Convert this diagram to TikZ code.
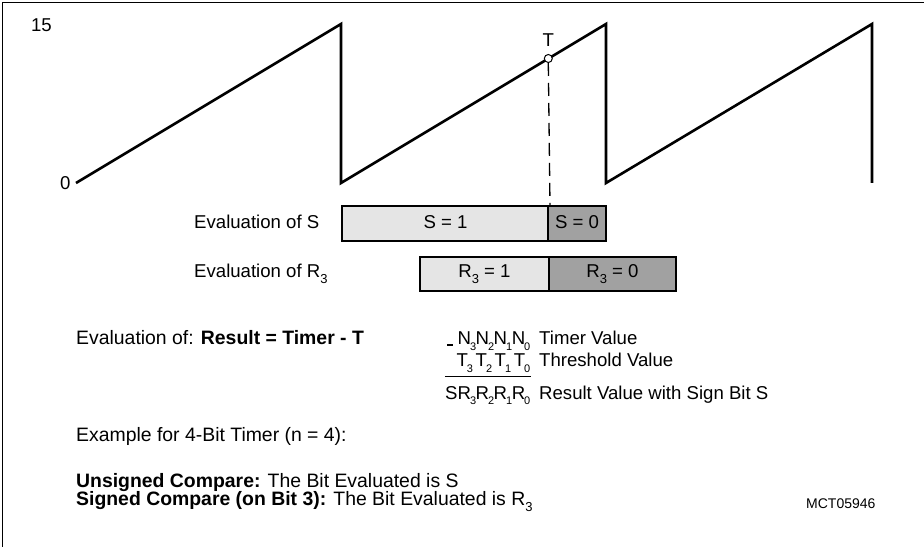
\documentclass[tikz,border=0pt]{standalone}
\usepackage{fontspec}
\setmainfont{Liberation Sans}
\newcommand{\subx}[1]{\raisebox{-6bp}{\fontsize{13bp}{13bp}\selectfont #1}}
\newcommand{\subn}[1]{\kern-1bp\raisebox{-5.5bp}{\fontsize{11bp}{11bp}\selectfont #1}\kern-0.5bp}
\begin{document}
\begin{tikzpicture}[x=1bp,y=-1bp,
  txt/.style={font=\fontsize{18.6bp}{22bp}\selectfont, inner sep=0pt, anchor=base west},
  ltxt/.style={font=\fontsize{19.4bp}{23bp}\selectfont, inner sep=0pt, anchor=base west},
  mtxt/.style={font=\fontsize{18.6bp}{22bp}\selectfont, inner sep=0pt, anchor=base west},
  small/.style={font=\fontsize{14bp}{16bp}\selectfont, inner sep=0pt, anchor=base west},
  saw/.style={line width=2.6bp, line join=miter},
  boxl/.style={draw, line width=2bp, fill=black!10, inner sep=0pt, font=\fontsize{18.6bp}{22bp}\selectfont, anchor=base},
  boxd/.style={draw, line width=2bp, fill=black!37, inner sep=0pt, font=\fontsize{18.6bp}{22bp}\selectfont, anchor=base},
  srow/.style={text height=23bp, text depth=12bp},
  rrow/.style={text height=21bp, text depth=13bp}]
\useasboundingbox (0,0) rectangle (924,547);
\draw[line width=1.5bp] (2.5,547) -- (2.5,2.5) -- (924,2.5);
% axis labels
\node[txt, anchor=base east] (l15) at (52,32) {15};
\node[txt, anchor=base east] (l0) at (70.7,190) {0};
% sawtooth
\coordinate (s0) at (76,183);
\coordinate (p1) at (341,24);
\coordinate (b1) at (341,183);
\coordinate (p2) at (606,24);
\coordinate (b2) at (606,183);
\coordinate (p3) at (872,24);
\coordinate (b3) at (872,183);
\draw[saw] (s0) -- (p1) -- (b1) -- (p2) -- (b2) -- (p3) -- (b3);
% threshold point
\node[txt, anchor=base] (Tl) at (548.3,47) {T};
% boxes
\node[boxl, srow, minimum width=207bp] (S1) at (445.5,229) {S = 1};
\node[boxd, srow, minimum width=58bp] (S0) at (577,229) {S = 0};
\node[boxl, rrow, minimum width=129bp] (R1) at (484.5,278) {R\subx{3} = 1};
\node[boxd, rrow, minimum width=127bp] (R0) at (612.5,278) {R\subx{3} = 0};
\node[circle, draw, fill=white, minimum size=8bp, inner sep=0pt, line width=1bp] (T) at (548.3,58.5) {};
\draw[line width=1.3bp, dash pattern=on 13bp off 7bp] (T.south) -- (S1.north east);
\node[txt] (eS) at (194,229) {Evaluation of S};
\node[txt] (eR) at (194,278) {Evaluation of R\subx{3}};
% evaluation
\node[ltxt] (ev) at (76,345) {Evaluation of: \textbf{Result = Timer - T}};
\node[mtxt, anchor=base east] (nv) at (530,345) {N\subn{3}N\subn{2}N\subn{1}N\subn{0}};
\draw[line width=2.5bp] ([xshift=-10bp]nv.base west) -- ([xshift=-4bp]nv.base west);
\node[mtxt] (nvl) at (539,345) {Timer Value};
\node[mtxt, anchor=base east] (tv) at (530,367) {T\subn{3}\,T\subn{2}\,T\subn{1}\,T\subn{0}};
\node[mtxt] (tvl) at (539,367) {Threshold Value};
\node[mtxt, anchor=base east] (rv) at (530,399) {SR\subn{3}R\subn{2}R\subn{1}R\subn{0}};
\node[mtxt] (rvl) at (539,399) {Result Value with Sign Bit S};
\coordinate (fr) at (531,376);
\coordinate (fl) at (rv.base west |- fr);
\draw[line width=1bp] (fl) -- (fr);
% notes
\node[ltxt] (ex) at (76,441) {Example for 4-Bit Timer (n = 4):};
\node[ltxt] (un) at (76,487) {\textbf{Unsigned Compare:} The Bit Evaluated is S};
\node[ltxt] (si) at (76,505) {\textbf{Signed Compare (on Bit 3):} The Bit Evaluated is R\subx{3}};
\node[small] (mct) at (806,508) {MCT05946};
\end{tikzpicture}
\end{document}
